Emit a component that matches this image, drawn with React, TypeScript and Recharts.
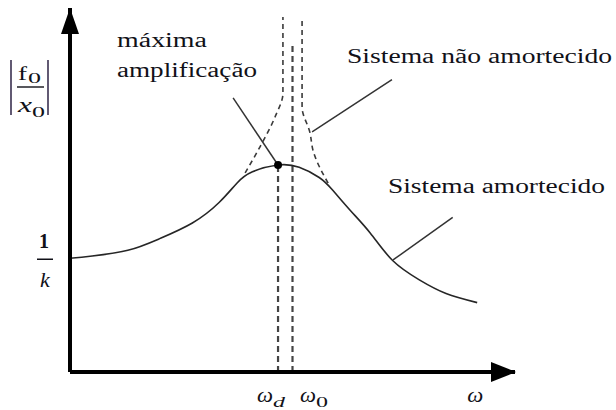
import React from 'react';
import { ComposedChart, Line, XAxis, YAxis, ReferenceLine, ReferenceDot } from 'recharts';

// x: frequency ratio ω/ω0, y: amplitude ratio |f0/x0| in units of 1/k
const dampedRatio = [0, 0.1, 0.26, 0.4, 0.55, 0.67, 0.75, 0.82, 0.935, 1.03, 1.12, 1.18, 1.26, 1.35, 1.45, 1.57, 1.69, 1.83];
const dampedAmp = [1.0, 1.02, 1.07, 1.17, 1.31, 1.49, 1.66, 1.76, 1.82, 1.8, 1.71, 1.6, 1.42, 1.22, 0.98, 0.81, 0.69, 0.61];

// undamped response, branch below resonance and branch above it
const freeLowRatio = [0.787, 0.854, 0.921, 0.957, 0.957];
const freeLowAmp = [1.75, 1.98, 2.24, 2.45, 3.12];
const freeHighRatio = [1.16, 1.092, 1.079, 1.043, 1.043];
const freeHighAmp = [1.66, 1.95, 2.1, 2.33, 3.12];

const OMEGA_D = 0.935;
const OMEGA_0 = 1.0;
const PEAK_AMP = 1.82;
const OMEGA_0_TOP = 2.9;

const xTicks = [OMEGA_D, OMEGA_0, 1.83];
const xTickSubs = ['d', '0', ''];
const yTicks = [1];

const W = 616;
const H = 410;
const SERIF = '"Liberation Serif", "Times New Roman", serif';
const INK = '#111118';

const rows = (xs: number[], ys: number[]) => xs.map((r, i) => ({ r, a: ys[i] }));

const OmegaTick = (props: any) => {
  const { x, index } = props;
  const dx = [-21, 7.5, -10][index] ?? 0;
  const sub = xTickSubs[index];
  return (
    <g fill={INK} fontFamily={SERIF}>
      <text x={x + dx} y={402} fontSize={22} fontStyle="italic" textLength={16} lengthAdjust="spacingAndGlyphs">
        ω
      </text>
      {sub && (
        <text
          x={x + dx + 16}
          y={407}
          fontSize={15}
          fontStyle={sub === 'd' ? 'italic' : 'normal'}
          textLength={12}
          lengthAdjust="spacingAndGlyphs"
        >
          {sub}
        </text>
      )}
    </g>
  );
};

const StiffnessTick = (props: any) => {
  const { y } = props;
  return (
    <g fill={INK} fontFamily={SERIF}>
      <text x={44} y={y - 10} fontSize={20} textAnchor="middle" fontWeight="bold">
        1
      </text>
      <line x1={37} x2={53} y1={y + 1} y2={y + 1} stroke={INK} strokeWidth={1.5} />
      <text x={45} y={y + 29} fontSize={22} fontStyle="italic" textAnchor="middle">
        k
      </text>
    </g>
  );
};

const Overlay = () => (
  <svg width={W} height={H} style={{ position: 'absolute', left: 0, top: 0, pointerEvents: 'none' }}>
    {/* arrow heads on both axes */}
    <polygon points="70,8 61,34 79,34" fill="#000" />
    <polygon points="516,372 491,362 491,382" fill="#000" />

    {/* |f0/x0| axis title */}
    <g fill={INK} fontFamily={SERIF}>
      <line x1={11} x2={11} y1={60} y2={115} stroke="#3a3050" strokeWidth={1.6} />
      <line x1={48} x2={48} y1={60} y2={115} stroke="#3a3050" strokeWidth={1.6} />
      <line x1={17} x2={44} y1={87} y2={87} stroke={INK} strokeWidth={1.4} />
      <text x={18} y={80} fontSize={19} textLength={9} lengthAdjust="spacingAndGlyphs">f</text>
      <text x={28} y={83} fontSize={14} textLength={13} lengthAdjust="spacingAndGlyphs">0</text>
      <text x={18} y={112} fontSize={21} fontStyle="italic" textLength={14} lengthAdjust="spacingAndGlyphs">x</text>
      <text x={32} y={117} fontSize={14} textLength={13} lengthAdjust="spacingAndGlyphs">0</text>
    </g>

    {/* annotations */}
    <g fill={INK} fontFamily={SERIF} fontSize={20}>
      <text x={117} y={47} textLength={90} lengthAdjust="spacingAndGlyphs">máxima</text>
      <text x={117} y={77} textLength={140} lengthAdjust="spacingAndGlyphs">amplificação</text>
      <text x={347} y={63} textLength={265} lengthAdjust="spacingAndGlyphs">Sistema não amortecido</text>
      <text x={388} y={193} textLength={217} lengthAdjust="spacingAndGlyphs">Sistema amortecido</text>
    </g>
  </svg>
);

export default function App() {
  return (
    <div style={{ position: 'absolute', left: 0, top: 0, width: W, height: H, background: '#fff' }}>
      <ComposedChart width={W} height={H} margin={{ top: 8, right: 101, bottom: 0, left: 0 }}>
        <XAxis
          dataKey="r"
          type="number"
          domain={[0, 2]}
          allowDataOverflow
          ticks={xTicks}
          interval={0}
          height={38}
          tickLine={false}
          axisLine={{ stroke: '#000', strokeWidth: 4 }}
          tick={<OmegaTick />}
        />
        <YAxis
          dataKey="a"
          type="number"
          domain={[0, 3.2]}
          allowDataOverflow
          ticks={yTicks}
          width={70}
          tickLine={false}
          axisLine={{ stroke: '#000', strokeWidth: 4 }}
          tick={<StiffnessTick />}
        />

        {/* resonance markers */}
        <ReferenceLine
          segment={[{ x: OMEGA_D, y: 0 }, { x: OMEGA_D, y: PEAK_AMP }]}
          stroke="#444"
          strokeWidth={2.2}
          strokeDasharray="6 4"
        />
        <ReferenceLine
          segment={[{ x: OMEGA_0, y: 0 }, { x: OMEGA_0, y: OMEGA_0_TOP }]}
          stroke="#444"
          strokeWidth={2.2}
          strokeDasharray="6 4"
        />

        {/* leader lines */}
        <ReferenceLine segment={[{ x: 0.733, y: 2.41 }, { x: OMEGA_D, y: PEAK_AMP }]} stroke="#333" strokeWidth={1.5} />
        <ReferenceLine segment={[{ x: 1.447, y: 2.57 }, { x: 1.088, y: 2.11 }]} stroke="#333" strokeWidth={1.5} />
        <ReferenceLine segment={[{ x: 1.72, y: 1.36 }, { x: 1.452, y: 0.985 }]} stroke="#333" strokeWidth={1.5} />

        <Line
          data={rows(freeLowRatio, freeLowAmp)}
          dataKey="a"
          type="monotoneY"
          stroke="#3a3a3a"
          strokeWidth={1.6}
          strokeDasharray="5 4"
          dot={false}
          activeDot={false}
          isAnimationActive={false}
        />
        <Line
          data={rows(freeHighRatio, freeHighAmp)}
          dataKey="a"
          type="monotoneY"
          stroke="#3a3a3a"
          strokeWidth={1.6}
          strokeDasharray="5 4"
          dot={false}
          activeDot={false}
          isAnimationActive={false}
        />
        <Line
          data={rows(dampedRatio, dampedAmp)}
          dataKey="a"
          type="natural"
          stroke="#262626"
          strokeWidth={1.6}
          dot={false}
          activeDot={false}
          isAnimationActive={false}
        />

        <ReferenceDot x={OMEGA_D} y={PEAK_AMP} r={4} fill="#000" stroke="none" />
      </ComposedChart>
      <Overlay />
    </div>
  );
}
